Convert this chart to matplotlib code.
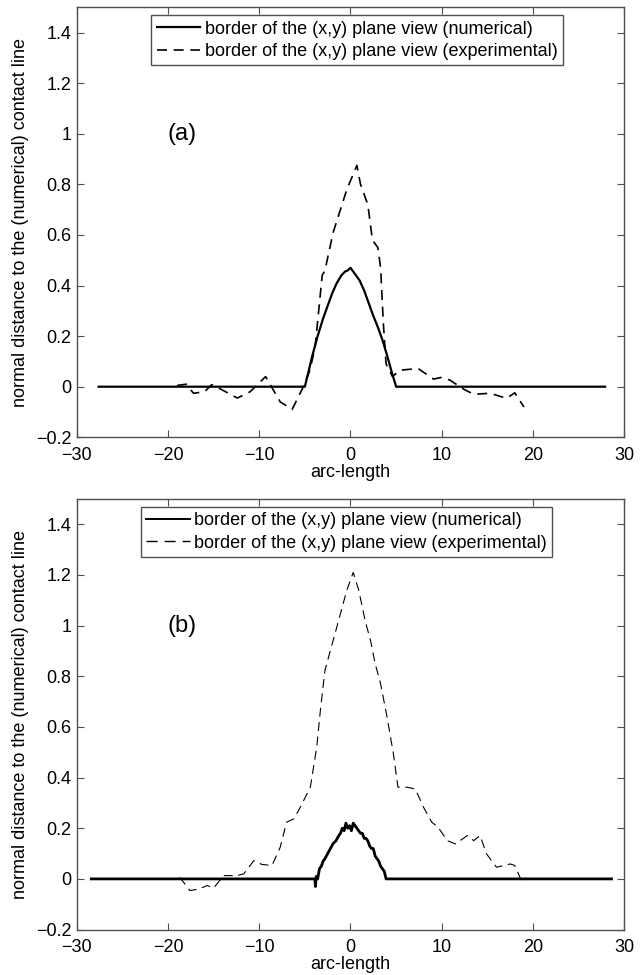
import matplotlib
matplotlib.use("Agg")
import matplotlib.pyplot as plt

'''
Normal distance of the (x,y) plane-view border to the numerical contact line,
numerical vs experimental, for two cases (a) and (b).
'''

# panel (a)
num_a_s = [-27.6, -5.0, -4.6, -4.2, -3.6, -3.0, -2.5, -2.0, -1.5, -1.0, -0.6, -0.3, 0.0,
           0.3, 0.6, 1.0, 1.5, 2.0, 2.5, 3.0, 3.5, 4.0, 4.5, 5.0, 27.9]
num_a_d = [0.0, 0.0, 0.06, 0.12, 0.20, 0.27, 0.32, 0.37, 0.41, 0.44, 0.455, 0.46, 0.47,
           0.455, 0.44, 0.42, 0.38, 0.33, 0.28, 0.235, 0.185, 0.125, 0.06, 0.0, 0.0]

exp_a_s = [-19.0, -18.0, -17.2, -16.0, -15.2, -14.2, -12.4, -11.0, -9.3, -7.7, -6.4, -5.3,
           -4.5, -3.9, -3.1, -2.8, -1.9, -0.4, 0.7, 1.1, 1.9, 2.4, 3.0, 3.3, 3.6, 3.9, 4.6,
           5.4, 7.4, 9.1, 10.0, 10.9, 12.4, 13.5, 15.3, 17.1, 18.0, 19.0]
exp_a_d = [0.005, 0.01, -0.026, -0.02, 0.008, -0.01, -0.045, -0.02, 0.04, -0.06, -0.09,
           -0.01, 0.06, 0.15, 0.44, 0.46, 0.61, 0.78, 0.875, 0.80, 0.72, 0.58, 0.55, 0.47,
           0.25, 0.09, 0.04, 0.065, 0.072, 0.03, 0.037, 0.026, -0.01, -0.03, -0.026, -0.046,
           -0.024, -0.08]

# panel (b)
num_b_s = [-28.4, -3.9, -3.85, -3.75, -3.6, -3.4, -3.2, -3.0, -2.8, -2.5, -2.2, -1.9, -1.6,
           -1.3, -1.1, -0.9, -0.7, -0.5, -0.3, -0.1, 0.1, 0.3, 0.5, 0.7, 0.9, 1.1, 1.3, 1.5,
           1.7, 1.9, 2.1, 2.3, 2.5, 2.7, 2.9, 3.1, 3.3, 3.5, 3.7, 3.9, 28.6]
num_b_d = [0.0, 0.0, -0.03, 0.01, 0.0, 0.04, 0.05, 0.07, 0.08, 0.10, 0.12, 0.14, 0.15,
           0.17, 0.18, 0.20, 0.19, 0.22, 0.20, 0.21, 0.19, 0.22, 0.21, 0.20, 0.19, 0.18,
           0.18, 0.16, 0.16, 0.15, 0.13, 0.12, 0.12, 0.09, 0.08, 0.07, 0.05, 0.04, 0.03, 0.0, 0.0]

exp_b_s = [-18.7, -17.6, -16.6, -15.7, -15.0, -13.9, -12.4, -11.7, -10.6, -9.7, -8.6, -7.7,
           -7.0, -6.2, -5.5, -4.4, -3.7, -3.3, -2.8, -2.0, -1.5, -0.8, -0.4, 0.3, 0.9, 1.6,
           2.2, 2.7, 3.3, 4.0, 4.7, 5.2, 6.2, 7.1, 8.0, 8.9, 9.6, 10.6, 11.5, 12.8, 13.5,
           14.2, 14.9, 16.0, 17.5, 18.0, 18.8]
exp_b_d = [0.006, -0.046, -0.04, -0.026, -0.036, 0.013, 0.013, 0.02, 0.072, 0.057, 0.053,
           0.125, 0.224, 0.237, 0.283, 0.362, 0.52, 0.665, 0.823, 0.929, 0.994, 1.087, 1.14,
           1.21, 1.14, 1.02, 0.94, 0.85, 0.77, 0.64, 0.494, 0.362, 0.362, 0.355, 0.283, 0.224,
           0.204, 0.151, 0.138, 0.171, 0.151, 0.171, 0.099, 0.046, 0.059, 0.053, -0.013]

xticks = [-30, -20, -10, 0, 10, 20, 30]
yticks = [-0.2, 0, 0.2, 0.4, 0.6, 0.8, 1, 1.2, 1.4]
ytick_labels = ['\u22120.2', '0', '0.2', '0.4', '0.6', '0.8', '1', '1.2', '1.4']
xtick_labels = ['\u221230', '\u221220', '\u221210', '0', '10', '20', '30']

label_num = "border of the (x,y) plane view (numerical)"
label_exp = "border of the (x,y) plane view (experimental)"

plt.rcParams['font.family'] = ['Liberation Sans', 'DejaVu Sans']
plt.rcParams['font.size'] = 13


def style_axes(ax, tag, leg_x):
    ax.set_xlim(-30, 30)
    ax.set_ylim(-0.2, 1.5)
    ax.set_xticks(xticks)
    ax.set_xticklabels(xtick_labels)
    ax.set_yticks(yticks)
    ax.set_yticklabels(ytick_labels)
    ax.tick_params(direction='in', top=True, right=True, length=5, width=0.8, color='#505050')
    ax.tick_params(axis='x', pad=7)
    ax.tick_params(axis='y', pad=4)
    for sp in ax.spines.values():
        sp.set_color('#505050')
        sp.set_linewidth(1.0)
    ax.set_xlabel("arc-length", labelpad=0)
    ax.set_ylabel("normal distance to the (numerical) contact line", labelpad=5)
    ax.text(-18.5, 1.0, tag, fontsize=17, ha='center', va='center')
    leg = ax.legend(loc='upper center', bbox_to_anchor=(leg_x, 0.99), fancybox=False,
                    framealpha=1, edgecolor='#505050', handlelength=2.4, handletextpad=0.25,
                    borderpad=0.3, labelspacing=0.3, borderaxespad=0.2)
    leg.get_frame().set_linewidth(1.0)


def main():
    fig = plt.figure(figsize=(6.44, 9.75), dpi=100)
    ax_a = fig.add_axes([0.1191, 0.5515, 0.8503, 0.4410])
    ax_b = fig.add_axes([0.1191, 0.0466, 0.8503, 0.4417])

    ax_a.plot(num_a_s, num_a_d, '-', color='black', linewidth=1.6, label=label_num)
    ax_a.plot(exp_a_s, exp_a_d, color='black', linewidth=1.2, dashes=(6, 4), label=label_exp)
    style_axes(ax_a, "(a)", 0.512)

    ax_b.plot(num_b_s, num_b_d, '-', color='black', linewidth=2.0, label=label_num)
    ax_b.plot(exp_b_s, exp_b_d, color='black', linewidth=0.8, dashes=(8, 5), label=label_exp)
    style_axes(ax_b, "(b)", 0.493)
    ax_b.get_legend().get_lines()[0].set_linewidth(1.4)
    ax_b.get_legend().get_lines()[1].set_linewidth(1.0)

    fig.savefig("out.png", dpi=100)


if __name__ == "__main__":
    main()
